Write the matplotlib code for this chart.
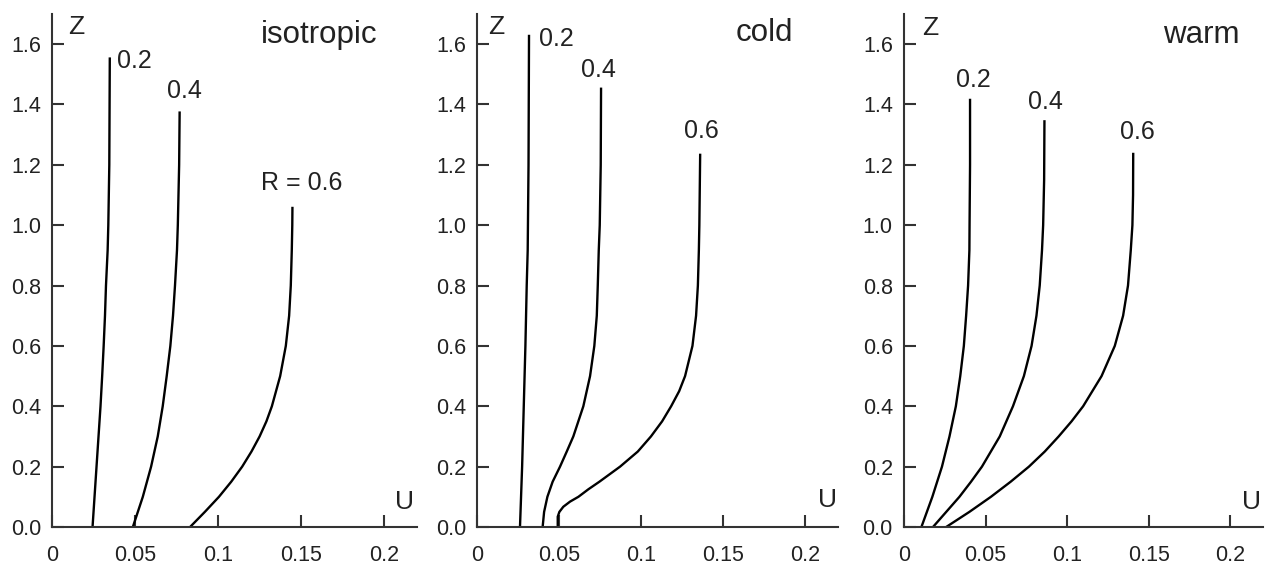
import matplotlib
matplotlib.use("Agg")
import matplotlib.pyplot as plt

plt.rcParams['font.family'] = ['Liberation Sans', 'DejaVu Sans']

# velocity profiles U(Z) for R = 0.2, 0.4, 0.6 in three regimes
regimes = ["isotropic", "cold", "warm"]
r_labels = [["0.2", "0.4", "R = 0.6"], ["0.2", "0.4", "0.6"], ["0.2", "0.4", "0.6"]]

iso_z_02 = [0.0, 0.1, 0.2, 0.3, 0.4, 0.5, 0.6, 0.7, 0.8, 0.917, 1.0, 1.2, 1.556]
iso_u_02 = [0.0244, 0.0256, 0.0268, 0.0280, 0.0292, 0.0302, 0.0311, 0.0319, 0.0325, 0.0335, 0.0339, 0.0345, 0.0348]
iso_z_04 = [0.0, 0.1, 0.2, 0.3, 0.4, 0.5, 0.6, 0.7, 0.8, 0.917, 1.0, 1.2, 1.377]
iso_u_04 = [0.0487, 0.0547, 0.0597, 0.0637, 0.0667, 0.0691, 0.0713, 0.0729, 0.0741, 0.0753, 0.0758, 0.0766, 0.0769]
iso_z_06 = [0.0, 0.05, 0.1, 0.15, 0.2, 0.25, 0.3, 0.35, 0.4, 0.5, 0.6, 0.7, 0.8, 0.917, 1.0, 1.061]
iso_u_06 = [0.0832, 0.0921, 0.1006, 0.1080, 0.1146, 0.1202, 0.1251, 0.1292, 0.1325, 0.1375, 0.1409, 0.1429, 0.1439, 0.1445, 0.1448, 0.1449]

cold_z_02 = [0.0, 0.2, 0.4, 0.6, 0.8, 0.917, 1.2, 1.631]
cold_u_02 = [0.0262, 0.0275, 0.0285, 0.0295, 0.0303, 0.0309, 0.0314, 0.0317]
cold_z_04 = [0.0, 0.05, 0.1, 0.15, 0.2, 0.25, 0.3, 0.4, 0.5, 0.6, 0.7, 0.8, 0.917, 1.0, 1.2, 1.456]
cold_u_04 = [0.0400, 0.0409, 0.0429, 0.0461, 0.0506, 0.0547, 0.0587, 0.0648, 0.0689, 0.0715, 0.0730, 0.0736, 0.0742, 0.0748, 0.0754, 0.0756]
cold_z_06 = [0.0, 0.034, 0.05, 0.067, 0.084, 0.1, 0.125, 0.15, 0.2, 0.25, 0.3, 0.35, 0.4, 0.45, 0.5, 0.6, 0.7, 0.8, 0.917, 1.0, 1.237]
cold_u_06 = [0.0492, 0.0492, 0.0502, 0.0526, 0.0567, 0.0618, 0.0679, 0.0746, 0.0872, 0.0980, 0.1060, 0.1128, 0.1183, 0.1232, 0.1268, 0.1313, 0.1335, 0.1346, 0.1352, 0.1355, 0.1360]

warm_z_02 = [0.0, 0.1, 0.2, 0.3, 0.4, 0.5, 0.6, 0.7, 0.8, 0.917, 1.0, 1.2, 1.419]
warm_u_02 = [0.0107, 0.0174, 0.0233, 0.0279, 0.0318, 0.0345, 0.0367, 0.0381, 0.0393, 0.0401, 0.0402, 0.0405, 0.0405]
warm_z_04 = [0.0, 0.05, 0.1, 0.15, 0.2, 0.3, 0.4, 0.5, 0.6, 0.7, 0.8, 0.917, 1.0, 1.15, 1.348]
warm_u_04 = [0.0178, 0.0259, 0.0340, 0.0411, 0.0478, 0.0587, 0.0668, 0.0735, 0.0782, 0.0812, 0.0832, 0.0846, 0.0853, 0.0859, 0.0861]
warm_z_06 = [0.0, 0.05, 0.1, 0.15, 0.2, 0.25, 0.3, 0.35, 0.4, 0.5, 0.6, 0.7, 0.8, 0.917, 1.0, 1.1, 1.24]
warm_u_06 = [0.0259, 0.0401, 0.0533, 0.0654, 0.0766, 0.0863, 0.0948, 0.1027, 0.1098, 0.1211, 0.1292, 0.1343, 0.1373, 0.1390, 0.1400, 0.1404, 0.1405]

profiles = [
    [(iso_u_02, iso_z_02), (iso_u_04, iso_z_04), (iso_u_06, iso_z_06)],
    [(cold_u_02, cold_z_02), (cold_u_04, cold_z_04), (cold_u_06, cold_z_06)],
    [(warm_u_02, warm_z_02), (warm_u_04, warm_z_04), (warm_u_06, warm_z_06)],
]

x_ticks = [0, 0.05, 0.1, 0.15, 0.2]
x_tick_labels = ["0", "0.05", "0.1", "0.15", "0.2"]
y_ticks = [0.0, 0.2, 0.4, 0.6, 0.8, 1.0, 1.2, 1.4, 1.6]
y_tick_labels = ["0.0", "0.2", "0.4", "0.6", "0.8", "1.0", "1.2", "1.4", "1.6"]

# where the curve labels and panel titles sit (data coords of left edge)
r_label_pos = [
    [(0.0389, 1.543), (0.0695, 1.444), (0.1257, 1.139)],
    [(0.0378, 1.616), (0.0634, 1.513), (0.1262, 1.311)],
    [(0.0316, 1.480), (0.0759, 1.407), (0.1324, 1.308)],
]
title_pos = [(0.1257, 1.629), (0.1579, 1.636), (0.1586, 1.629)]
z_pos = [(0.0096, 1.656), (0.0067, 1.656), (0.0109, 1.652)]
u_pos = [(0.2066, 0.083), (0.2079, 0.089), (0.2072, 0.083)]

fig = plt.figure(figsize=(12.73, 5.65), dpi=100)
lefts = [0.0409, 0.3747, 0.7101]
widths = [0.2867, 0.2836, 0.2820]
text_col = '#222222'

for i in range(3):
    ax = fig.add_axes([lefts[i], 0.0673, widths[i], 0.908])
    for (u, z) in profiles[i]:
        ax.plot(u, z, color='black', lw=1.7, solid_capstyle='butt',
                solid_joinstyle='round')
    for lab, (lx, ly) in zip(r_labels[i], r_label_pos[i]):
        ax.text(lx, ly, lab, fontsize=18, ha='left', va='center', color=text_col)
    ax.text(title_pos[i][0], title_pos[i][1], regimes[i], fontsize=22.5,
            ha='left', va='center', color=text_col)
    ax.text(z_pos[i][0], z_pos[i][1], "Z", fontsize=19, ha='left', va='center', color=text_col)
    ax.text(u_pos[i][0], u_pos[i][1], "U", fontsize=19, ha='left', va='center', color=text_col)

    ax.set_xlim(0, 0.22)
    ax.set_ylim(0, 1.7)
    ax.set_xticks(x_ticks)
    ax.set_xticklabels(x_tick_labels)
    ax.set_yticks(y_ticks)
    ax.set_yticklabels(y_tick_labels)
    ax.spines['top'].set_visible(False)
    ax.spines['right'].set_visible(False)
    for s in ['left', 'bottom']:
        ax.spines[s].set_linewidth(1.5)
        ax.spines[s].set_color('#333333')
    ax.tick_params(axis='both', direction='in', length=8.5, width=1.5,
                   color='#333333', labelsize=15.5, labelcolor=text_col)
    ax.tick_params(axis='y', pad=8)
    ax.tick_params(axis='x', pad=13)
    ax.patch.set_alpha(0)

fig.savefig("out.png", dpi=100)
